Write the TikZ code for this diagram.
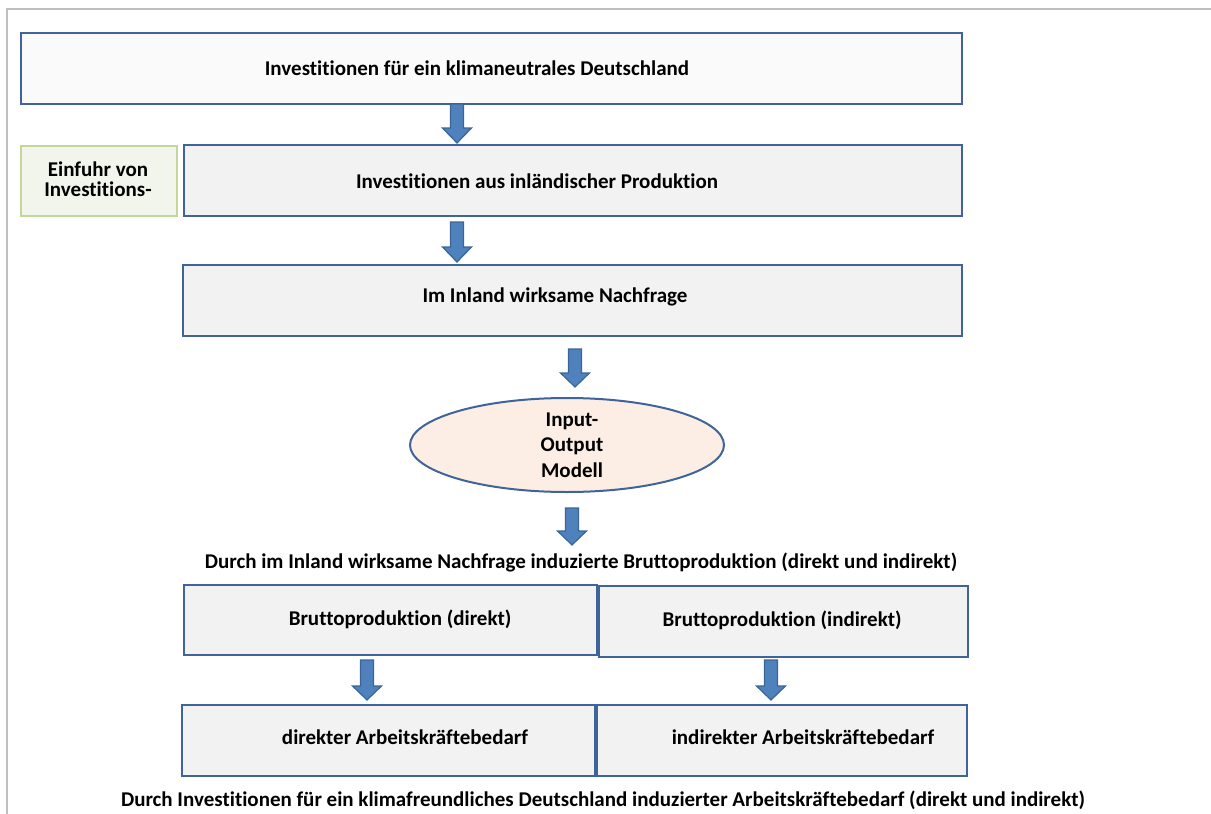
\documentclass[tikz,border=0pt]{standalone}
\usepackage{fontspec}
\setmainfont{Carlito}[Ligatures={NoCommon}]
\usetikzlibrary{shapes.geometric}
\definecolor{boxline}{HTML}{3F6499}
\definecolor{boxfill}{HTML}{F2F2F2}
\definecolor{topfill}{HTML}{FAFAFA}
\definecolor{greenline}{HTML}{C3D69B}
\definecolor{greenfill}{HTML}{F2F5EB}
\definecolor{ellfill}{HTML}{FCEEE5}
\definecolor{arrfill}{HTML}{4F81BD}
\definecolor{arrline}{HTML}{3A6596}
\definecolor{framegray}{HTML}{BFBFBF}
\tikzset{
  boxnode/.style={draw=boxline, line width=2.2pt, fill=boxfill, inner sep=0pt},
  txt/.style={font=\bfseries\fontsize{21}{24}\selectfont, inner sep=0pt, align=center},
  blockarr/.style={fill=arrfill, draw=arrline, line width=1.2pt, line join=miter},
}
\newcommand\blkarrow[4]{% x, ytop, yhead, ytip
  \fill[blockarr] (#1-6.5,#2) -- (#1+6.5,#2) -- (#1+6.5,#3) -- (#1+14.5,#3) -- (#1,#4) -- (#1-14.5,#3) -- (#1-6.5,#3) -- cycle;}
\begin{document}
\begin{tikzpicture}[x=1pt,y=-1pt]
\useasboundingbox (0,0) rectangle (1211,814);
% frame
\draw[framegray, line width=1.2pt] (7,814) -- (7,9) -- (1211,9);
% boxes
\node[boxnode, fill=topfill, minimum width=941pt, minimum height=71pt] (b1) at (491.5,68.5) {};
\node[draw=greenline, line width=2pt, fill=greenfill, minimum width=156pt, minimum height=70pt] (g) at (99,181) {};
\node[boxnode, minimum width=778pt, minimum height=71pt] (b2) at (573,180.5) {};
\node[boxnode, minimum width=779pt, minimum height=71pt] (b3) at (572.5,300.5) {};
\node[draw=boxline, line width=2pt, fill=ellfill, ellipse, minimum width=314pt, minimum height=94pt, inner sep=0pt] (e) at (567,445) {};
\node[boxnode, minimum width=413pt, minimum height=70pt] (b4) at (390.5,620) {};
\node[boxnode, minimum width=369pt, minimum height=71pt] (b5) at (783.5,621.5) {};
\node[boxnode, minimum width=413pt, minimum height=71pt] (b6) at (388.5,740.5) {};
\node[boxnode, minimum width=370pt, minimum height=71pt] (b7) at (782,740.5) {};
% texts
\node[txt] (t1) at (477,68) {Investitionen für ein klimaneutrales Deutschland};
\node[txt, font=\bfseries\fontsize{21}{20.5}\selectfont] (tg) at (98,179) {Einfuhr von\\Investitions-};
\node[txt] (t2) at (537,181) {Investitionen aus inländischer Produktion};
\node[txt] (t3) at (555,297) {Im Inland wirksame Nachfrage};
\node[txt, font=\bfseries\fontsize{21}{25.5}\selectfont] (te) at (572,445) {Input-\\Output\\Modell};
\node[txt] (t4) at (581,562) {Durch im Inland wirksame Nachfrage induzierte Bruttoproduktion (direkt und indirekt)};
\node[txt] (t5) at (400,619) {Bruttoproduktion (direkt)};
\node[txt] (t6) at (782,620) {Bruttoproduktion (indirekt)};
\node[txt] (t7) at (405,737) {direkter Arbeitskräftebedarf};
\node[txt] (t8) at (803,737) {indirekter Arbeitskräftebedarf};
\node[txt] (t9) at (603,800) {Durch Investitionen für ein klimafreundliches Deutschland induzierter Arbeitskräftebedarf (direkt und indirekt)};
% block arrows
\blkarrow{457}{104}{128}{143}
\blkarrow{457}{222}{247}{262}
\blkarrow{575}{349}{373}{387}
\blkarrow{572}{508}{531}{545}
\blkarrow{367}{660}{686}{700}
\blkarrow{771}{660}{686}{700}
\end{tikzpicture}
\end{document}
